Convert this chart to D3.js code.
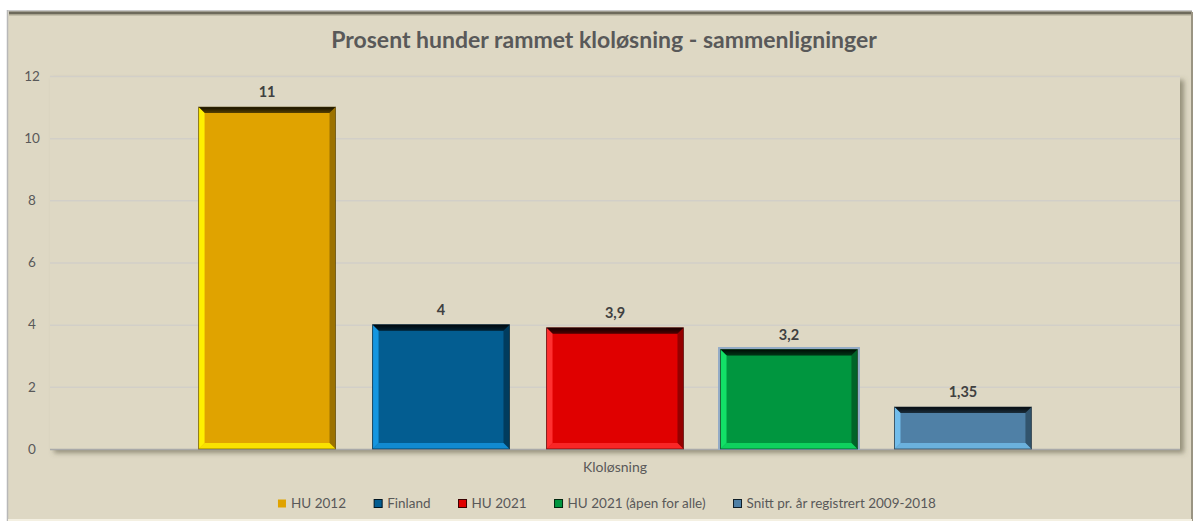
<!DOCTYPE html>
<html>
  <head>
    <meta charset="utf-8">
    <title>Prosent hunder rammet kloløsning</title>
    <style>
      body { margin: 0; background: #fff; }
      text { font-family: Lato, 'Open Sans', sans-serif; fill: #595959; }
      .title { font-size: 23px; font-weight: bold; }
      .tick text { font-size: 13.5px; }
      .value { font-size: 14.5px; font-weight: bold; fill: #404040; }
      .legend text { font-size: 13.5px; }
    </style>
  </head>
  <body>
    <div id="chart"></div>
    <script src="https://cdn.jsdelivr.net/npm/d3@7"></script>
    <script>
      var title = 'Prosent hunder rammet kloløsning - sammenligninger';
      var category = 'Kloløsning';
      var series = ['HU 2012', 'Finland', 'HU 2021', 'HU 2021 (åpen for alle)', 'Snitt pr. år registrert 2009-2018'];
      var values = [11, 4, 3.9, 3.2, 1.35];
      var labels = ['11', '4', '3,9', '3,2', '1,35'];
      var yTicks = [0, 2, 4, 6, 8, 10, 12];
      // fill, light edge, dark edge
      var colors = ['#E0A300', '#035D91', '#E00000', '#00963F', '#4F80A6'];
      var lights = ['#FFF000', '#1596E0', '#FF3030', '#12E067', '#72BDEB'];
      var darks = ['#4A3800', '#001522', '#3A0000', '#00260F', '#0F1E29'];

      var width = 1197, height = 527;
      var margin = {left: 50, right: 17, top: 76, bottom: 78};
      var plotW = width - margin.left - margin.right;
      var plotH = height - margin.top - margin.bottom;

      var svg = d3.select('#chart').append('svg')
        .attr('width', width).attr('height', height);

      var defs = svg.append('defs');
      var f = defs.append('filter').attr('id', 'shadow')
        .attr('x', '-5%').attr('y', '-5%').attr('width', '110%').attr('height', '120%');
      f.append('feDropShadow').attr('dx', 4).attr('dy', 4).attr('stdDeviation', 2.5)
        .attr('flood-color', '#5a5440').attr('flood-opacity', 0.55);
      var tg = defs.append('linearGradient').attr('id', 'topedge').attr('x1', 0).attr('x2', 0).attr('y1', 0).attr('y2', 1);
      tg.append('stop').attr('offset', 0).attr('stop-color', '#000').attr('stop-opacity', 0.85);
      tg.append('stop').attr('offset', 1).attr('stop-color', '#000').attr('stop-opacity', 0.35);

      // outer chart frame
      svg.append('rect').attr('x', 8).attr('y', 10).attr('width', 1184).attr('height', 510)
        .attr('fill', '#DED8C4');
      svg.append('line').attr('x1', 7.5).attr('x2', 7.5).attr('y1', 10).attr('y2', 521)
        .attr('stroke', '#b8b8b8').attr('stroke-width', 1.5);
      svg.append('rect').attr('x', 8).attr('y', 10).attr('width', 1184).attr('height', 1.5).attr('fill', '#c8c8c8');
      svg.append('rect').attr('x', 9).attr('y', 11.5).attr('width', 1183).attr('height', 2.5).attr('fill', '#6e6a5c');
      svg.append('rect').attr('x', 9).attr('y', 14).attr('width', 1183).attr('height', 1.5).attr('fill', '#a8a38f');
      svg.append('rect').attr('x', 1191).attr('y', 12).attr('width', 2).attr('height', 509).attr('fill', '#9a9482');
      svg.append('rect').attr('x', 8).attr('y', 519).attr('width', 1184).attr('height', 2).attr('fill', '#f4f0e2');

      svg.append('text').attr('class', 'title')
        .attr('x', 604).attr('y', 48).attr('text-anchor', 'middle').text(title);

      var y = d3.scaleLinear().domain([0, 12]).range([margin.top + plotH, margin.top]);
      var x = d3.scaleBand().domain(series).range([margin.left, margin.left + plotW])
        .paddingInner(0.213).paddingOuter(0.854);

      // plot area with shadow
      svg.append('rect').attr('x', margin.left).attr('y', margin.top)
        .attr('width', plotW).attr('height', plotH)
        .attr('fill', '#DED8C4').attr('filter', 'url(#shadow)');

      var yAxis = svg.append('g')
        .attr('transform', 'translate(' + margin.left + ',0)')
        .call(d3.axisLeft(y).tickValues(yTicks).tickSize(-plotW).tickPadding(12));
      yAxis.select('.domain').remove();
      yAxis.selectAll('.tick line').attr('stroke', '#d2cfc8').attr('stroke-width', 1.5);
      yAxis.selectAll('.tick text').attr('x', -18).attr('text-anchor', 'middle');
      yAxis.selectAll('.tick').filter(function(d) { return d === 0; }).select('line')
        .attr('stroke', '#a9a9a9');

      var bw = x.bandwidth(), e = 6;
      var bars = svg.selectAll('.bar').data(series).enter().append('g').attr('class', 'bar');
      bars.each(function(s, i) {
        var g = d3.select(this);
        var x0 = x(s), x1 = x(s) + bw, y0 = y(values[i]), y1 = y(0);
        if (i === 3) {
          g.append('rect').attr('x', x0 - 1.5).attr('y', y0 - 1.5).attr('width', bw + 3).attr('height', y1 - y0 + 1.5)
            .attr('fill', 'none').attr('stroke', '#93abc6').attr('stroke-width', 2);
        }
        g.append('rect').attr('x', x0).attr('y', y0).attr('width', bw).attr('height', y1 - y0)
          .attr('fill', colors[i]);
        var poly = function(pts, c, op) {
          return g.append('polygon').attr('points', pts.map(function(p) { return p.join(','); }).join(' '))
            .attr('fill', c).attr('opacity', op);
        };
        poly([[x0, y0], [x1, y0], [x1 - e, y0 + e], [x0 + e, y0 + e]], darks[i], 0.6);
        poly([[x0, y0], [x1, y0], [x1 - e, y0 + e], [x0 + e, y0 + e]], 'url(#topedge)', 1);
        poly([[x1, y0], [x1, y1], [x1 - e, y1 - e], [x1 - e, y0 + e]], darks[i], 0.45);
        poly([[x0, y0], [x0 + e, y0 + e], [x0 + e, y1 - e], [x0, y1]], lights[i], 1);
        poly([[x0, y1], [x0 + e, y1 - e], [x1 - e, y1 - e], [x1, y1]], lights[i], 0.8);
        g.append('rect').attr('x', x0).attr('y', y0).attr('width', bw).attr('height', y1 - y0)
          .attr('fill', 'none').attr('stroke', darks[i]).attr('stroke-opacity', 0.6).attr('stroke-width', 1);
        g.append('text').attr('class', 'value')
          .attr('x', x0 + bw / 2).attr('y', y0 - 10).attr('text-anchor', 'middle').text(labels[i]);
      });

      svg.append('text').attr('x', margin.left + plotW / 2).attr('y', 472)
        .attr('text-anchor', 'middle').style('font-size', '14px').text(category);

      // legend
      var legend = svg.append('g').attr('class', 'legend');
      var items = legend.selectAll('g').data(series).enter().append('g');
      items.append('rect').attr('width', 8).attr('height', 8).attr('y', -8.5)
        .attr('fill', function(d, i) { return colors[i]; })
        .attr('stroke', function(d, i) { return i === 0 ? 'none' : darks[i]; }).attr('stroke-width', 1);
      items.append('text').attr('x', 13).attr('y', 0).text(function(d) { return d; });
      items.each(function() {
        d3.select(this).attr('data-w', this.getBBox().width);
      });
      var total = 0, gap = 28;
      items.each(function() { total += +d3.select(this).attr('data-w'); });
      total += gap * (series.length - 1);
      var pos = 607 - total / 2;
      items.each(function() {
        d3.select(this).attr('transform', 'translate(' + pos + ',508)');
        pos += +d3.select(this).attr('data-w') + gap;
      });
    </script>
  </body>
</html>
